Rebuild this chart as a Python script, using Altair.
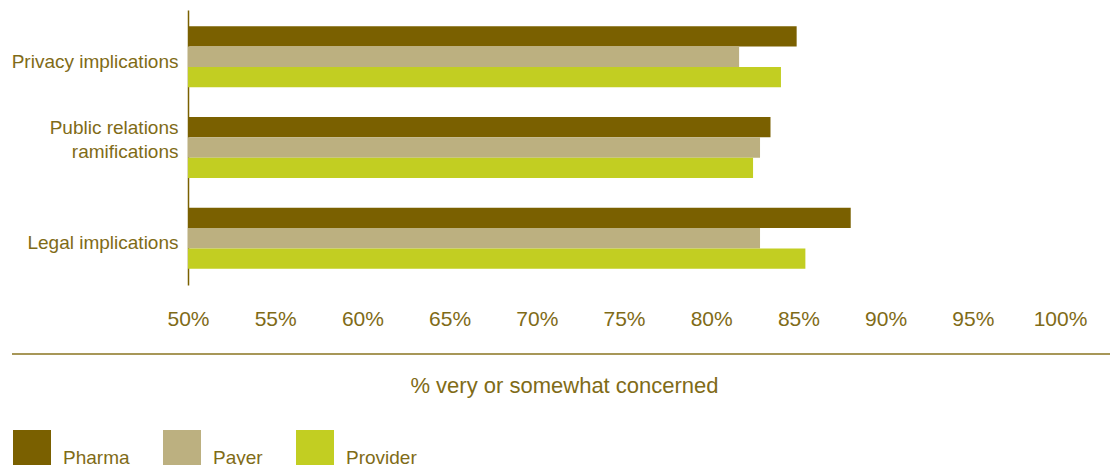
import altair as alt
import pandas as pd

categories = ["Privacy implications", "Public relations|ramifications", "Legal implications"]
series = ["Pharma", "Payer", "Provider"]
pharma = [84.9, 83.4, 88.0]
payer = [81.6, 82.8, 82.8]
provider = [84.0, 82.4, 85.4]
ticks = [50, 55, 60, 65, 70, 75, 80, 85, 90, 95, 100]
colors = ["#7A6000", "#BCB080", "#C2CE22"]
TEXT = "#7F6B17"
FONT = "Liberation Sans"

rows = []
for i, c in enumerate(categories):
    for s, vals in zip(series, [pharma, payer, provider]):
        rows.append({"category": c, "series": s, "value": vals[i]})
df = pd.DataFrame(rows)

bars = alt.Chart(df).mark_bar().encode(
    y=alt.Y("category:N", sort=categories,
            scale=alt.Scale(paddingInner=0.33, paddingOuter=0.18),
            axis=alt.Axis(title=None, domain=True, domainColor="#7A6000", domainWidth=1.5,
                          ticks=False, tickSize=0, labelPadding=10, labelFontSize=19,
                          labelColor=TEXT, labelFont=FONT, labelLineHeight=24,
                          labelExpr="split(datum.value, '|')",
                          labelOffset={"condition": {"test": "indexof(datum.value, '|') >= 0", "value": -20}, "value": 5},
                          grid=False)),
    yOffset=alt.YOffset("series:N", sort=series, scale=alt.Scale(paddingInner=0, paddingOuter=0)),
    x=alt.X("value:Q", scale=alt.Scale(domain=[50, 100], zero=False, nice=False),
            axis=alt.Axis(values=ticks, labelExpr="datum.value + '%'", domain=False, ticks=False,
                          tickSize=0, grid=False, labelPadding=23, labelFontSize=21,
                          labelFlush=False, labelOverlap=False,
                          labelColor=TEXT, labelFont=FONT,
                          title="% very or somewhat concerned", titleFont=FONT, titleFontSize=22,
                          titleFontWeight="normal", titleColor=TEXT, titleX=376, titleY=90,
                          titleAlign="center", titleBaseline="top")),
    x2=alt.datum(50),
    color=alt.Color("series:N", sort=series,
                    scale=alt.Scale(domain=series, range=colors),
                    legend=alt.Legend(title=None, orient="none", legendX=-175, legendY=420,
                                      direction="horizontal", symbolType="square", symbolSize=1444,
                                      symbolStrokeWidth=0, symbolOpacity=1, labelFontSize=19,
                                      labelFont=FONT, labelColor=TEXT, labelOffset=12,
                                      columnPadding=33, labelBaseline="top", padding=0)),
)

rule = alt.Chart(pd.DataFrame({"a": [0]})).mark_rule(color="#8A7420", strokeWidth=1.5).encode(
    x=alt.value(-176), x2=alt.value(922), y=alt.value(344)
)

chart = alt.layer(bars, rule).properties(
    width=872, height=275,
    padding={"left": 180, "top": 2, "right": 50, "bottom": 180},
    autosize=alt.AutoSizeParams(type="none"),
).configure_view(stroke=None)

chart.save("out.html", embed_options={"renderer": "svg", "actions": False})
